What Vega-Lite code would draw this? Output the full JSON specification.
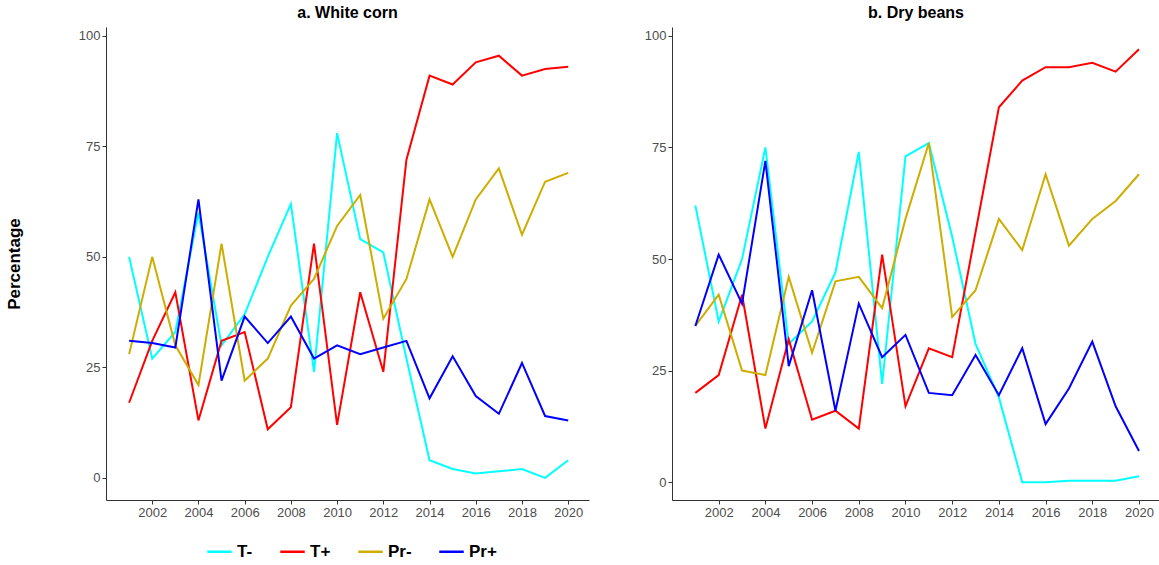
{
  "$schema": "https://vega.github.io/schema/vega-lite/v6.json",
  "background": "white",
  "padding": {"left": 5, "top": 5, "right": 0, "bottom": 5},
  "data": {"values": [
    {"panel":"a","series":"T-","year":2001,"value":50},{"panel":"a","series":"T-","year":2002,"value":27},{"panel":"a","series":"T-","year":2003,"value":33},{"panel":"a","series":"T-","year":2004,"value":60},{"panel":"a","series":"T-","year":2005,"value":30},{"panel":"a","series":"T-","year":2006,"value":37},{"panel":"a","series":"T-","year":2007,"value":50},{"panel":"a","series":"T-","year":2008,"value":62},{"panel":"a","series":"T-","year":2009,"value":24},{"panel":"a","series":"T-","year":2010,"value":78},{"panel":"a","series":"T-","year":2011,"value":54},{"panel":"a","series":"T-","year":2012,"value":51},{"panel":"a","series":"T-","year":2013,"value":27},{"panel":"a","series":"T-","year":2014,"value":4},{"panel":"a","series":"T-","year":2015,"value":2},{"panel":"a","series":"T-","year":2016,"value":1},{"panel":"a","series":"T-","year":2017,"value":1.5},{"panel":"a","series":"T-","year":2018,"value":2},{"panel":"a","series":"T-","year":2019,"value":0},{"panel":"a","series":"T-","year":2020,"value":4},
    {"panel":"a","series":"T+","year":2001,"value":17},{"panel":"a","series":"T+","year":2002,"value":31},{"panel":"a","series":"T+","year":2003,"value":42},{"panel":"a","series":"T+","year":2004,"value":13},{"panel":"a","series":"T+","year":2005,"value":31},{"panel":"a","series":"T+","year":2006,"value":33},{"panel":"a","series":"T+","year":2007,"value":11},{"panel":"a","series":"T+","year":2008,"value":16},{"panel":"a","series":"T+","year":2009,"value":53},{"panel":"a","series":"T+","year":2010,"value":12},{"panel":"a","series":"T+","year":2011,"value":42},{"panel":"a","series":"T+","year":2012,"value":24},{"panel":"a","series":"T+","year":2013,"value":72},{"panel":"a","series":"T+","year":2014,"value":91},{"panel":"a","series":"T+","year":2015,"value":89},{"panel":"a","series":"T+","year":2016,"value":94},{"panel":"a","series":"T+","year":2017,"value":95.5},{"panel":"a","series":"T+","year":2018,"value":91},{"panel":"a","series":"T+","year":2019,"value":92.5},{"panel":"a","series":"T+","year":2020,"value":93},
    {"panel":"a","series":"Pr-","year":2001,"value":28},{"panel":"a","series":"Pr-","year":2002,"value":50},{"panel":"a","series":"Pr-","year":2003,"value":30},{"panel":"a","series":"Pr-","year":2004,"value":21},{"panel":"a","series":"Pr-","year":2005,"value":53},{"panel":"a","series":"Pr-","year":2006,"value":22},{"panel":"a","series":"Pr-","year":2007,"value":27},{"panel":"a","series":"Pr-","year":2008,"value":39},{"panel":"a","series":"Pr-","year":2009,"value":45},{"panel":"a","series":"Pr-","year":2010,"value":57},{"panel":"a","series":"Pr-","year":2011,"value":64},{"panel":"a","series":"Pr-","year":2012,"value":36},{"panel":"a","series":"Pr-","year":2013,"value":45},{"panel":"a","series":"Pr-","year":2014,"value":63},{"panel":"a","series":"Pr-","year":2015,"value":50},{"panel":"a","series":"Pr-","year":2016,"value":63},{"panel":"a","series":"Pr-","year":2017,"value":70},{"panel":"a","series":"Pr-","year":2018,"value":55},{"panel":"a","series":"Pr-","year":2019,"value":67},{"panel":"a","series":"Pr-","year":2020,"value":69},
    {"panel":"a","series":"Pr+","year":2001,"value":31},{"panel":"a","series":"Pr+","year":2002,"value":30.5},{"panel":"a","series":"Pr+","year":2003,"value":29.5},{"panel":"a","series":"Pr+","year":2004,"value":63},{"panel":"a","series":"Pr+","year":2005,"value":22},{"panel":"a","series":"Pr+","year":2006,"value":36.5},{"panel":"a","series":"Pr+","year":2007,"value":30.5},{"panel":"a","series":"Pr+","year":2008,"value":36.5},{"panel":"a","series":"Pr+","year":2009,"value":27},{"panel":"a","series":"Pr+","year":2010,"value":30},{"panel":"a","series":"Pr+","year":2011,"value":28},{"panel":"a","series":"Pr+","year":2012,"value":29.5},{"panel":"a","series":"Pr+","year":2013,"value":31},{"panel":"a","series":"Pr+","year":2014,"value":18},{"panel":"a","series":"Pr+","year":2015,"value":27.5},{"panel":"a","series":"Pr+","year":2016,"value":18.5},{"panel":"a","series":"Pr+","year":2017,"value":14.5},{"panel":"a","series":"Pr+","year":2018,"value":26},{"panel":"a","series":"Pr+","year":2019,"value":14},{"panel":"a","series":"Pr+","year":2020,"value":13},
    {"panel":"b","series":"T-","year":2001,"value":62},{"panel":"b","series":"T-","year":2002,"value":36},{"panel":"b","series":"T-","year":2003,"value":50},{"panel":"b","series":"T-","year":2004,"value":75},{"panel":"b","series":"T-","year":2005,"value":31},{"panel":"b","series":"T-","year":2006,"value":36},{"panel":"b","series":"T-","year":2007,"value":47},{"panel":"b","series":"T-","year":2008,"value":74},{"panel":"b","series":"T-","year":2009,"value":22},{"panel":"b","series":"T-","year":2010,"value":73},{"panel":"b","series":"T-","year":2011,"value":76},{"panel":"b","series":"T-","year":2012,"value":55},{"panel":"b","series":"T-","year":2013,"value":31},{"panel":"b","series":"T-","year":2014,"value":19},{"panel":"b","series":"T-","year":2015,"value":0},{"panel":"b","series":"T-","year":2016,"value":0},{"panel":"b","series":"T-","year":2017,"value":0.3},{"panel":"b","series":"T-","year":2018,"value":0.3},{"panel":"b","series":"T-","year":2019,"value":0.3},{"panel":"b","series":"T-","year":2020,"value":1.3},
    {"panel":"b","series":"T+","year":2001,"value":20},{"panel":"b","series":"T+","year":2002,"value":24},{"panel":"b","series":"T+","year":2003,"value":42},{"panel":"b","series":"T+","year":2004,"value":12},{"panel":"b","series":"T+","year":2005,"value":32},{"panel":"b","series":"T+","year":2006,"value":14},{"panel":"b","series":"T+","year":2007,"value":16},{"panel":"b","series":"T+","year":2008,"value":12},{"panel":"b","series":"T+","year":2009,"value":51},{"panel":"b","series":"T+","year":2010,"value":17},{"panel":"b","series":"T+","year":2011,"value":30},{"panel":"b","series":"T+","year":2012,"value":28},{"panel":"b","series":"T+","year":2013,"value":56},{"panel":"b","series":"T+","year":2014,"value":84},{"panel":"b","series":"T+","year":2015,"value":90},{"panel":"b","series":"T+","year":2016,"value":93},{"panel":"b","series":"T+","year":2017,"value":93},{"panel":"b","series":"T+","year":2018,"value":94},{"panel":"b","series":"T+","year":2019,"value":92},{"panel":"b","series":"T+","year":2020,"value":97},
    {"panel":"b","series":"Pr-","year":2001,"value":35},{"panel":"b","series":"Pr-","year":2002,"value":42},{"panel":"b","series":"Pr-","year":2003,"value":25},{"panel":"b","series":"Pr-","year":2004,"value":24},{"panel":"b","series":"Pr-","year":2005,"value":46},{"panel":"b","series":"Pr-","year":2006,"value":29},{"panel":"b","series":"Pr-","year":2007,"value":45},{"panel":"b","series":"Pr-","year":2008,"value":46},{"panel":"b","series":"Pr-","year":2009,"value":39},{"panel":"b","series":"Pr-","year":2010,"value":59},{"panel":"b","series":"Pr-","year":2011,"value":76},{"panel":"b","series":"Pr-","year":2012,"value":37},{"panel":"b","series":"Pr-","year":2013,"value":43},{"panel":"b","series":"Pr-","year":2014,"value":59},{"panel":"b","series":"Pr-","year":2015,"value":52},{"panel":"b","series":"Pr-","year":2016,"value":69},{"panel":"b","series":"Pr-","year":2017,"value":53},{"panel":"b","series":"Pr-","year":2018,"value":59},{"panel":"b","series":"Pr-","year":2019,"value":63},{"panel":"b","series":"Pr-","year":2020,"value":69},
    {"panel":"b","series":"Pr+","year":2001,"value":35},{"panel":"b","series":"Pr+","year":2002,"value":51},{"panel":"b","series":"Pr+","year":2003,"value":40},{"panel":"b","series":"Pr+","year":2004,"value":72},{"panel":"b","series":"Pr+","year":2005,"value":26},{"panel":"b","series":"Pr+","year":2006,"value":43},{"panel":"b","series":"Pr+","year":2007,"value":16},{"panel":"b","series":"Pr+","year":2008,"value":40},{"panel":"b","series":"Pr+","year":2009,"value":28},{"panel":"b","series":"Pr+","year":2010,"value":33},{"panel":"b","series":"Pr+","year":2011,"value":20},{"panel":"b","series":"Pr+","year":2012,"value":19.5},{"panel":"b","series":"Pr+","year":2013,"value":28.5},{"panel":"b","series":"Pr+","year":2014,"value":19.5},{"panel":"b","series":"Pr+","year":2015,"value":30},{"panel":"b","series":"Pr+","year":2016,"value":13},{"panel":"b","series":"Pr+","year":2017,"value":21},{"panel":"b","series":"Pr+","year":2018,"value":31.5},{"panel":"b","series":"Pr+","year":2019,"value":17},{"panel":"b","series":"Pr+","year":2020,"value":7}
  ]},
  "config": {
    "font": "Liberation Sans",
    "view": {"stroke": null},
    "axis": {"grid": false, "domainColor": "#333", "tickColor": "#333", "labelColor": "#4d4d4d", "labelFontSize": 13, "tickSize": 4},
    "title": {"fontSize": 16, "fontWeight": "bold", "anchor": "middle", "offset": 6},
    "legend": {"orient": "none", "legendX": 100, "legendY": 511, "direction": "horizontal", "labelFontSize": 17, "labelFontWeight": "bold", "symbolType": "stroke", "symbolStrokeWidth": 2.5, "symbolSize": 600, "columnPadding": 22}
  },
  "spacing": 55,
  "hconcat": [
    {
      "title": "a. White corn",
      "width": 483,
      "height": 473,
      "transform": [{"filter": "datum.panel === 'a'"}],
      "mark": {"type": "line", "strokeWidth": 2},
      "encoding": {
        "x": {"field": "year", "type": "quantitative", "title": null, "scale": {"domain": [2000.0, 2020.9], "nice": false, "zero": false}, "axis": {"values": [2002,2004,2006,2008,2010,2012,2014,2016,2018,2020], "format": "d"}},
        "y": {"field": "value", "type": "quantitative", "title": "Percentage", "scale": {"domain": [-5, 102], "nice": false}, "axis": {"values": [0,25,50,75,100], "titleFontSize": 17, "titleFontWeight": "bold", "titleColor": "black", "titlePadding": 55}},
        "color": {"field": "series", "type": "nominal", "title": null, "scale": {"domain": ["T-","T+","Pr-","Pr+"], "range": ["#00FFFF","#FF0000","#CDAD00","#0000FF"]}}
      }
    },
    {
      "title": "b. Dry beans",
      "width": 488,
      "height": 473,
      "transform": [{"filter": "datum.panel === 'b'"}],
      "mark": {"type": "line", "strokeWidth": 2},
      "encoding": {
        "x": {"field": "year", "type": "quantitative", "title": null, "scale": {"domain": [2000.0, 2020.9], "nice": false, "zero": false}, "axis": {"values": [2002,2004,2006,2008,2010,2012,2014,2016,2018,2020], "format": "d"}},
        "y": {"field": "value", "type": "quantitative", "title": null, "scale": {"domain": [-4, 102], "nice": false}, "axis": {"values": [0,25,50,75,100]}},
        "color": {"field": "series", "type": "nominal", "title": null, "scale": {"domain": ["T-","T+","Pr-","Pr+"], "range": ["#00FFFF","#FF0000","#CDAD00","#0000FF"]}}
      }
    }
  ]
}
